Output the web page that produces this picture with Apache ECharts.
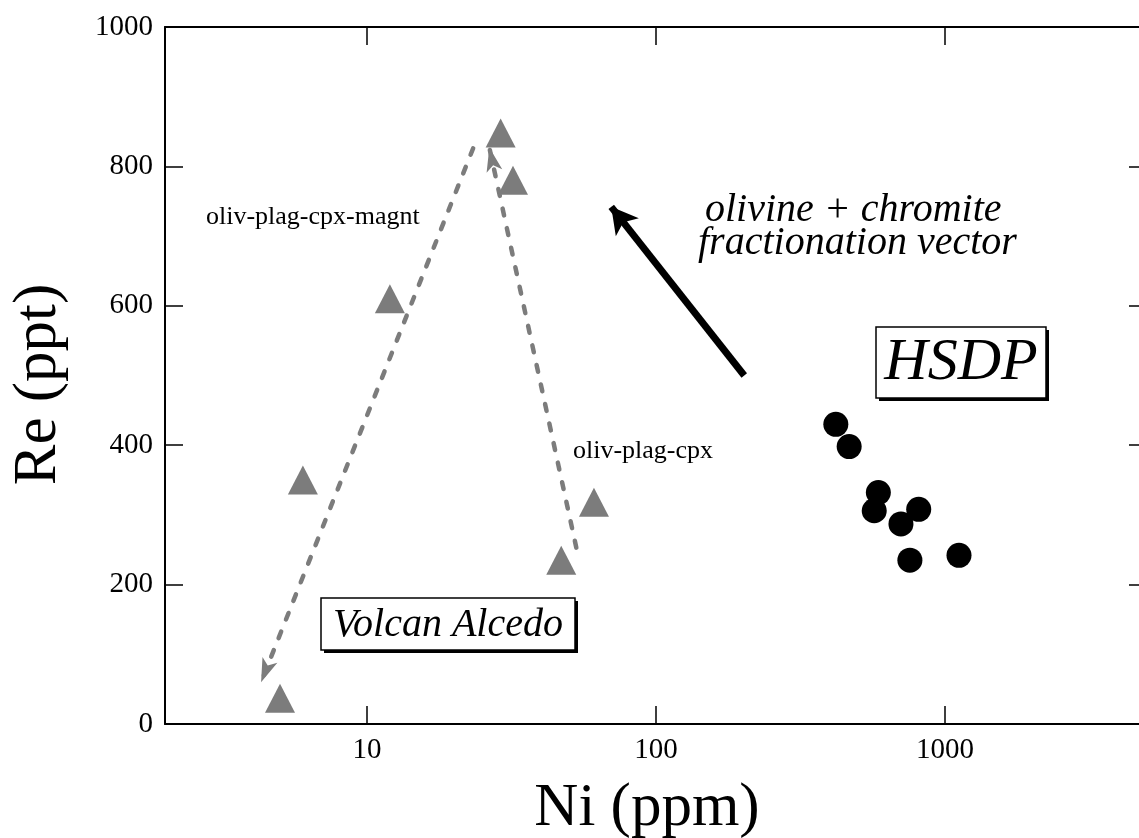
<!DOCTYPE html>
<html>
<head>
<meta charset="utf-8">
<title>Re vs Ni</title>
<script src="https://cdn.jsdelivr.net/npm/echarts@6/dist/echarts.min.js"></script>
<style>
  html, body { margin: 0; padding: 0; background: #fff; }
  #chart { width: 1139px; height: 838px; }
</style>
</head>
<body>
<div id="chart"></div>
<script>
// Volcan Alcedo (triangles) - [Ni ppm, Re ppt]
const alcedo = [
    [5.0, 37], [6.0, 350], [12, 610], [29, 848], [32, 780], [47, 235], [61, 318]
];
// HSDP (circles)
const hsdp = [
    [419, 430], [466, 398], [588, 332], [569, 306], [811, 308], [704, 287], [756, 235], [1118, 242]
];
// trend arrows: start -> end
const trendMagnt = [[23.3, 826], [4.3, 60]];
const trendCpx = [[53, 253], [26.5, 827]];
const olivineVector = [[202, 500], [70, 742]];

const xTicks = [10, 100, 1000];
const yTicks = [0, 200, 400, 600, 800, 1000];

const FONT = '"Liberation Serif", "Times New Roman", Times, serif';
const GREY = '#7c7c7c';

const chart = echarts.init(document.getElementById('chart'));

function decadeLabel(v) {
    const l = Math.log10(v);
    return xTicks.indexOf(Math.round(v)) >= 0 && Math.abs(l - Math.round(l)) < 1e-6 ? String(Math.round(v)) : '';
}

function arrowLine(pair, color, width, dashed, size) {
    return {
        silent: true,
        animation: false,
        symbol: ['none', 'arrow'],
        symbolSize: size,
        label: { show: false },
        lineStyle: {
            color: color,
            width: width,
            type: dashed ? [7, 13] : 'solid',
            cap: dashed ? 'round' : 'butt'
        },
        emphasis: { disabled: true },
        data: [[{ coord: pair[0] }, { coord: pair[1] }]]
    };
}

const axisLine = { show: true, onZero: false, lineStyle: { color: '#000', width: 2 } };
const axisTick = { show: true, inside: true, length: 18, lineStyle: { color: '#000', width: 1.5 } };

const option = {
    animation: false,
    backgroundColor: '#fff',
    grid: { left: 165, top: 27, width: 982, height: 697, containLabel: false, outerBoundsMode: 'none' },
    xAxis: [
        {
            type: 'log', logBase: 10, min: 2, max: 5000, position: 'bottom',
            name: 'Ni (ppm)', nameLocation: 'middle', nameGap: 54,
            nameTextStyle: { fontFamily: FONT, fontSize: 61, color: '#000', padding: [0, 18, 0, 0] },
            axisLine: axisLine, axisTick: axisTick,
            axisLabel: { fontFamily: FONT, fontSize: 29, color: '#000', margin: 12,
                         showMinLabel: false, showMaxLabel: false, formatter: decadeLabel },
            splitLine: { show: false }, minorTick: { show: false }
        },
        {
            type: 'log', logBase: 10, min: 2, max: 5000, position: 'top',
            axisLine: axisLine, axisTick: axisTick,
            axisLabel: { show: false }, splitLine: { show: false }
        }
    ],
    yAxis: [
        {
            type: 'value', min: 0, max: 1000, interval: 200, position: 'left',
            name: 'Re (ppt)', nameLocation: 'middle', nameGap: 96,
            nameTextStyle: { fontFamily: FONT, fontSize: 61, color: '#000', padding: [0, 18, 0, 0] },
            axisLine: axisLine, axisTick: axisTick,
            axisLabel: { fontFamily: FONT, fontSize: 29, color: '#000', margin: 12,
                         formatter: function (v) { return yTicks.indexOf(v) >= 0 ? String(v) : ''; } },
            splitLine: { show: false }
        },
        {
            type: 'value', min: 0, max: 1000, interval: 200, position: 'right',
            axisLine: axisLine, axisTick: axisTick,
            axisLabel: { show: false }, splitLine: { show: false }
        }
    ],
    series: [
        {
            name: 'oliv-plag-cpx-magnt',
            type: 'line', data: [], symbol: 'none',
            markLine: arrowLine(trendMagnt, GREY, 4.5, true, [12, 24])
        },
        {
            name: 'oliv-plag-cpx',
            type: 'line', data: [], symbol: 'none',
            markLine: arrowLine(trendCpx, GREY, 4.5, true, [12, 24])
        },
        {
            name: 'olivine + chromite',
            type: 'line', data: [], symbol: 'none',
            markLine: arrowLine(olivineVector, '#000', 7, false, [22, 26])
        },
        {
            name: 'Volcan Alcedo',
            type: 'scatter',
            data: alcedo,
            symbol: 'triangle',
            symbolSize: [30, 29],
            itemStyle: { color: GREY, opacity: 1 },
            z: 5
        },
        {
            name: 'HSDP',
            type: 'scatter',
            data: hsdp,
            symbol: 'circle',
            symbolSize: 25,
            itemStyle: { color: '#000', opacity: 1 },
            z: 5
        }
    ],
    graphic: [
        { type: 'text', left: 206, top: 204, silent: true,
          style: { text: 'oliv-plag-cpx-magnt', font: '26px ' + FONT, fill: '#000' } },
        { type: 'text', left: 573, top: 438, silent: true,
          style: { text: 'oliv-plag-cpx', font: '26px ' + FONT, fill: '#000' } },
        { type: 'text', left: 705, top: 190, silent: true,
          style: { text: 'olivine + chromite', font: 'italic 40px ' + FONT, fill: '#000' } },
        { type: 'text', left: 698, top: 223, silent: true,
          style: { text: 'fractionation vector', font: 'italic 40px ' + FONT, fill: '#000' } },
        // HSDP box
        { type: 'rect', shape: { x: 879, y: 330, width: 170, height: 71 }, silent: true,
          style: { fill: '#000' }, z: 10 },
        { type: 'rect', shape: { x: 876, y: 327, width: 170, height: 71 }, silent: true,
          style: { fill: '#fff', stroke: '#000', lineWidth: 1.5 }, z: 11 },
        { type: 'text', x: 961, y: 363, silent: true, z: 12,
          style: { text: 'HSDP', font: 'italic 60px ' + FONT, fill: '#000', align: 'center', verticalAlign: 'middle' } },
        // Volcan Alcedo box
        { type: 'rect', shape: { x: 324, y: 601, width: 254, height: 52 }, silent: true,
          style: { fill: '#000' }, z: 10 },
        { type: 'rect', shape: { x: 321, y: 598, width: 254, height: 52 }, silent: true,
          style: { fill: '#fff', stroke: '#000', lineWidth: 1.5 }, z: 11 },
        { type: 'text', x: 448, y: 625, silent: true, z: 12,
          style: { text: 'Volcan Alcedo', font: 'italic 40px ' + FONT, fill: '#000', align: 'center', verticalAlign: 'middle' } }
    ]
};

chart.setOption(option);

window.addEventListener('resize', function () {
    chart.resize();
});
</script>
</body>
</html>
